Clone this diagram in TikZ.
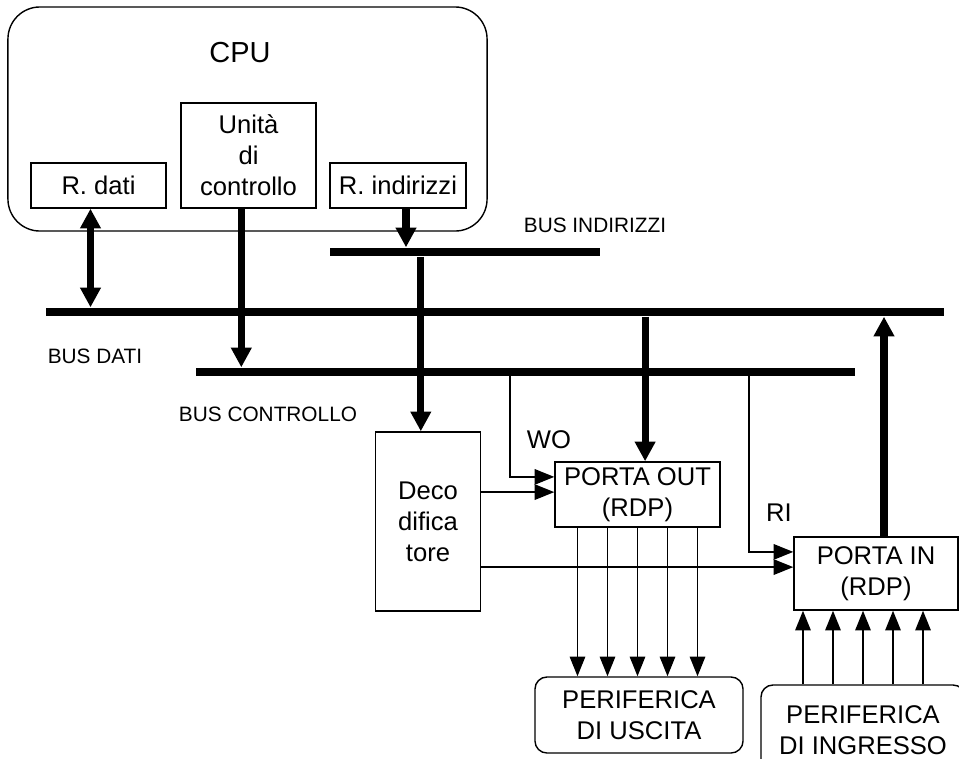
\documentclass[tikz,border=0pt]{standalone}
\usepackage{fontspec}
\setmainfont{Liberation Sans}
\usetikzlibrary{arrows.meta,calc}

\begin{document}
\begin{tikzpicture}[
  x=0.025cm, y=-0.025cm,
  font=\fontsize{18.2}{22}\selectfont,
  unit/.style={draw, line width=1pt, inner sep=2pt, align=center},
  periph/.style={draw, line width=1pt, rounded corners=0.3cm, inner sep=2pt, align=center},
  bus/.style={fill=black, inner sep=0pt, minimum height=0.22cm},
  buslabel/.style={font=\fontsize{14.8}{17}\selectfont},
  fat/.style={line width=5pt, -{Triangle[length=14pt,width=14pt]}},
  fatboth/.style={line width=5pt, {Triangle[length=14pt,width=14pt]}-{Triangle[length=14pt,width=14pt]}},
  sig/.style={line width=1.1pt, -{Triangle[length=14pt,width=11pt]}},
]
\useasboundingbox (0,0) rectangle (959,758);

% ---- the processor ----------------------------------------------------------
\node[draw, line width=1pt, rounded corners=0.8cm, minimum width=11.975cm,
      minimum height=5.6cm] (cpu) at (247.5,119) {};
\node[font=\fontsize{20.6}{24}\selectfont] (cpuname) at (240,53) {CPU};

\node[unit, minimum width=3.375cm, minimum height=1.125cm] (rdati) at (98.5,185.5) {R. dati};
\node[unit, minimum width=3.375cm, minimum height=2.625cm] (uc)    at (248.5,155.5) {Unità\\di\\controllo};
\node[unit, minimum width=3.4cm,   minimum height=1.125cm] (rind)  at (398,185.5) {R. indirizzi};

% ---- the three buses --------------------------------------------------------
\node[bus, minimum width=6.75cm]   (busind)  at (465,252)   {};
\node[bus, minimum width=22.45cm]  (busdati) at (495,312)   {};
\node[bus, minimum width=16.475cm] (busctrl) at (525.5,372) {};

\node[buslabel] (lind)  at (595,225) {BUS INDIRIZZI};
\node[buslabel] (ldati) at (95,356)  {BUS DATI};
\node[buslabel] (lctrl) at (268,414) {BUS CONTROLLO};

\draw[fatboth] ([xshift=-0.2cm]rdati.south) -- ([xshift=-0.2cm]rdati.south |- busdati.north);
\draw[fat] ([xshift=-0.18cm]uc.south) -- ([xshift=-0.18cm]uc.south |- busctrl.north);
\draw[fat] ([xshift=0.2cm]rind.south) -- ([xshift=0.2cm]rind.south |- busind.north);

% ---- ports and decoder ------------------------------------------------------
\node[unit, minimum width=2.625cm, minimum height=4.475cm] (deco) at (428,521.5) {Deco\\difica\\tore};
\node[unit, minimum width=4.125cm, minimum height=1.625cm] (pout) at (637.5,494.5) {PORTA OUT\\(RDP)};
\node[unit, minimum width=4.1cm,   minimum height=1.825cm] (pin)  at (876,573.5) {PORTA IN\\(RDP)};

\draw[fat] ([xshift=-0.18cm]deco.north |- busind.south) -- ([xshift=-0.18cm]deco.north);
\draw[fat] ([xshift=0.19cm]pout.north |- busdati.south) -- ([xshift=0.19cm]pout.north);
\draw[fat] ([xshift=0.2cm]pin.north) -- ([xshift=0.2cm]pin.north |- busdati.south);

% control lines
\coordinate (wo) at (510,372);
\coordinate (ri) at (749,372);
\draw[sig] (wo) |- ([yshift=0.44cm]pout.west);
\draw[sig] (ri) |- ([yshift=0.54cm]pin.west);
\node (lwo) at (549,440) {WO};
\node (lri) at (779,513) {RI};

\draw[sig] ([yshift=0.06cm]pout.west -| deco.east) -- ([yshift=0.06cm]pout.west);
\draw[sig] ([yshift=0.16cm]pin.west -| deco.east) -- ([yshift=0.16cm]pin.west);

% ---- peripherals ------------------------------------------------------------
\node[periph, minimum width=5.2cm, minimum height=1.9cm]  (perout) at (639,715) {PERIFERICA\\DI USCITA};
\node[periph, minimum width=5.1cm, minimum height=2.25cm] (perin)  at (863,730) {PERIFERICA\\DI INGRESSO};

\foreach \dx in {-1.5,-0.75,0,0.75,1.5} {
  \draw[sig] ([xshift=\dx cm]pout.south) -- ([xshift=\dx cm]pout.south |- perout.north);
  \draw[sig] ([xshift=\dx cm]perin.north) -- ([xshift=\dx cm]perin.north |- pin.south);
}

\end{tikzpicture}
\end{document}
